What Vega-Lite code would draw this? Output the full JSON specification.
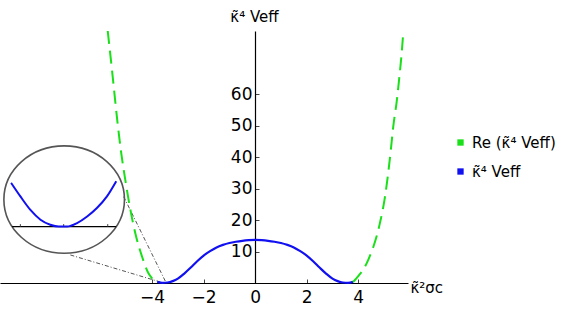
{
  "$schema": "https://vega.github.io/schema/vega-lite/v6.json",
  "width": 408,
  "height": 252,
  "autosize": "none",
  "padding": {"left": 0, "top": 31, "right": 173, "bottom": 27},
  "config": {"view": {"stroke": null}, "font": "DejaVu Sans"},
  "encoding": {
    "x": {
      "field": "x", "type": "quantitative",
      "scale": {"domain": [-9.9, 5.93], "nice": false, "zero": false},
      "axis": {
        "values": [-4, -2, 0, 2, 4], "grid": false, "domainColor": "black", "domainWidth": 1.2,
        "tickColor": "#444", "tickSize": -4, "labelPadding": 10, "labelFontSize": 17, "labelColor": "black",
        "labelOverlap": false, "labelFlush": false,
        "title": "κ̃²σc", "titleX": 410, "titleY": 4, "titleAlign": "left", "titleBaseline": "middle",
        "titleFontSize": 15, "titleFontWeight": "normal", "titleColor": "black"
      }
    },
    "y": {
      "field": "y", "type": "quantitative",
      "scale": {"domain": [0, 80], "nice": false, "zero": false},
      "axis": {
        "values": [10, 20, 30, 40, 50, 60], "grid": false, "offset": -255, "domainColor": "black", "domainWidth": 1.2,
        "tickColor": "#444", "tickSize": -4, "labelPadding": 7, "labelFontSize": 17, "labelColor": "black",
        "labelOverlap": false, "labelFlush": false,
        "title": "κ̃⁴ Veff", "titleAngle": 0, "titleX": -1, "titleY": -10, "titleAlign": "center", "titleBaseline": "alphabetic",
        "titleFontSize": 15, "titleFontWeight": "normal", "titleColor": "black"
      }
    }
  },
  "layer": [
    {
      "data": {"values": [{"x": -7.41, "y": 26.5}]},
      "mark": {"type": "point", "shape": "M-1,0A1,0.89,0,1,1,1,0A1,0.89,0,1,1,-1,0Z", "size": 14544, "filled": true, "fill": "white", "stroke": "#555555", "strokeWidth": 1.6, "opacity": 1, "fillOpacity": 1}
    },
    {
      "data": {"values": [
        {"x": -5.10, "y": 27.4, "k": 1}, {"x": -3.45, "y": 0, "k": 1},
        {"x": -7.17, "y": 8.9, "k": 2}, {"x": -3.55, "y": 0, "k": 2}
      ]},
      "mark": {"type": "line", "color": "#555555", "strokeWidth": 1, "strokeDash": [4, 2, 1, 2], "clip": true},
      "encoding": {"detail": {"field": "k"}}
    },
    {
      "data": {"values": [{"x": -9.43, "x2": -5.39, "y": 17.9}]},
      "mark": {"type": "rule", "color": "black", "strokeWidth": 1.2},
      "encoding": {"x2": {"field": "x2"}}
    },
    {
      "data": {"values": [{"x": -9.11, "y": 17.9, "y2": 18.7}, {"x": -7.43, "y": 17.9, "y2": 18.7}, {"x": -5.72, "y": 17.9, "y2": 18.7}]},
      "mark": {"type": "rule", "color": "#444", "strokeWidth": 1},
      "encoding": {"y2": {"field": "y2"}}
    },
    {
      "data": {"values": [
        {"x": -9.47, "y": 31.8}, {"x": -9.11, "y": 27.5}, {"x": -8.72, "y": 23.2}, {"x": -8.33, "y": 20.1},
        {"x": -7.95, "y": 18.5}, {"x": -7.62, "y": 17.9}, {"x": -7.30, "y": 17.9}, {"x": -6.91, "y": 19.0},
        {"x": -6.52, "y": 21.1}, {"x": -6.14, "y": 23.8}, {"x": -5.75, "y": 27.5}, {"x": -5.39, "y": 32.3}
      ]},
      "mark": {"type": "line", "color": "#1010f0", "strokeWidth": 2, "interpolate": "monotone"}
    },
    {
      "data": {"values": [
        {"x": -3.8, "y": 0.35, "series": "κ̃⁴ Veff"}, {"x": -3.6, "y": 0.05, "series": "κ̃⁴ Veff"},
        {"x": -3.4, "y": 0.15, "series": "κ̃⁴ Veff"}, {"x": -3.2, "y": 0.6, "series": "κ̃⁴ Veff"},
        {"x": -3.0, "y": 1.4, "series": "κ̃⁴ Veff"}, {"x": -2.75, "y": 3.0, "series": "κ̃⁴ Veff"},
        {"x": -2.5, "y": 4.9, "series": "κ̃⁴ Veff"}, {"x": -2.25, "y": 6.9, "series": "κ̃⁴ Veff"},
        {"x": -2.0, "y": 8.7, "series": "κ̃⁴ Veff"}, {"x": -1.75, "y": 10.1, "series": "κ̃⁴ Veff"},
        {"x": -1.5, "y": 11.3, "series": "κ̃⁴ Veff"}, {"x": -1.25, "y": 12.1, "series": "κ̃⁴ Veff"},
        {"x": -1.0, "y": 12.7, "series": "κ̃⁴ Veff"}, {"x": -0.75, "y": 13.1, "series": "κ̃⁴ Veff"},
        {"x": -0.5, "y": 13.4, "series": "κ̃⁴ Veff"}, {"x": -0.25, "y": 13.6, "series": "κ̃⁴ Veff"},
        {"x": 0, "y": 13.7, "series": "κ̃⁴ Veff"}, {"x": 0.25, "y": 13.6, "series": "κ̃⁴ Veff"},
        {"x": 0.5, "y": 13.4, "series": "κ̃⁴ Veff"}, {"x": 0.75, "y": 13.1, "series": "κ̃⁴ Veff"},
        {"x": 1.0, "y": 12.7, "series": "κ̃⁴ Veff"}, {"x": 1.25, "y": 12.1, "series": "κ̃⁴ Veff"},
        {"x": 1.5, "y": 11.3, "series": "κ̃⁴ Veff"}, {"x": 1.75, "y": 10.1, "series": "κ̃⁴ Veff"},
        {"x": 2.0, "y": 8.7, "series": "κ̃⁴ Veff"}, {"x": 2.25, "y": 6.9, "series": "κ̃⁴ Veff"},
        {"x": 2.5, "y": 4.9, "series": "κ̃⁴ Veff"}, {"x": 2.75, "y": 3.0, "series": "κ̃⁴ Veff"},
        {"x": 3.0, "y": 1.4, "series": "κ̃⁴ Veff"}, {"x": 3.2, "y": 0.6, "series": "κ̃⁴ Veff"},
        {"x": 3.4, "y": 0.15, "series": "κ̃⁴ Veff"}, {"x": 3.6, "y": 0.05, "series": "κ̃⁴ Veff"},
        {"x": 3.8, "y": 0.35, "series": "κ̃⁴ Veff"}
      ]},
      "mark": {"type": "line", "strokeWidth": 2.2, "interpolate": "monotone"},
      "encoding": {
        "color": {
          "field": "series", "type": "nominal",
          "scale": {"domain": ["Re (κ̃⁴ Veff)", "κ̃⁴ Veff"], "range": ["#19e019", "#1010f0"]},
          "legend": {
            "orient": "none", "legendX": 453, "legendY": 104, "title": null,
            "symbolType": "square", "symbolSize": 40, "symbolStrokeWidth": 0,
            "labelFontSize": 15, "labelColor": "black", "rowPadding": 13, "labelOffset": 4,
            "encode": {"symbols": {"update": {"fill": {"scale": "color", "field": "value"}, "strokeWidth": {"value": 0}, "strokeDash": {"value": []}}}}
          }
        }
      }
    },
    {
      "data": {"values": [
        {"x": -3.85, "y": 0.3, "series": "Re (κ̃⁴ Veff)", "seg": "L"}, {"x": -4.0, "y": 1.5, "series": "Re (κ̃⁴ Veff)", "seg": "L"},
        {"x": -4.14, "y": 3.1, "series": "Re (κ̃⁴ Veff)", "seg": "L"}, {"x": -4.39, "y": 8.4, "series": "Re (κ̃⁴ Veff)", "seg": "L"},
        {"x": -4.65, "y": 15.8, "series": "Re (κ̃⁴ Veff)", "seg": "L"}, {"x": -4.84, "y": 23.2, "series": "Re (κ̃⁴ Veff)", "seg": "L"},
        {"x": -5.04, "y": 32.8, "series": "Re (κ̃⁴ Veff)", "seg": "L"}, {"x": -5.2, "y": 41.5, "series": "Re (κ̃⁴ Veff)", "seg": "L"},
        {"x": -5.36, "y": 52.4, "series": "Re (κ̃⁴ Veff)", "seg": "L"}, {"x": -5.53, "y": 65.7, "series": "Re (κ̃⁴ Veff)", "seg": "L"},
        {"x": -5.72, "y": 80, "series": "Re (κ̃⁴ Veff)", "seg": "L"},
        {"x": 3.8, "y": 0.3, "series": "Re (κ̃⁴ Veff)", "seg": "R"}, {"x": 4.0, "y": 2.2, "series": "Re (κ̃⁴ Veff)", "seg": "R"},
        {"x": 4.2, "y": 4.3, "series": "Re (κ̃⁴ Veff)", "seg": "R"}, {"x": 4.4, "y": 7.6, "series": "Re (κ̃⁴ Veff)", "seg": "R"},
        {"x": 4.59, "y": 11.6, "series": "Re (κ̃⁴ Veff)", "seg": "R"}, {"x": 4.84, "y": 19.0, "series": "Re (κ̃⁴ Veff)", "seg": "R"},
        {"x": 5.04, "y": 27.5, "series": "Re (κ̃⁴ Veff)", "seg": "R"}, {"x": 5.17, "y": 35.5, "series": "Re (κ̃⁴ Veff)", "seg": "R"},
        {"x": 5.26, "y": 42, "series": "Re (κ̃⁴ Veff)", "seg": "R"}, {"x": 5.36, "y": 49.8, "series": "Re (κ̃⁴ Veff)", "seg": "R"},
        {"x": 5.49, "y": 57.5, "series": "Re (κ̃⁴ Veff)", "seg": "R"}, {"x": 5.59, "y": 65, "series": "Re (κ̃⁴ Veff)", "seg": "R"},
        {"x": 5.69, "y": 73.5, "series": "Re (κ̃⁴ Veff)", "seg": "R"}, {"x": 5.75, "y": 80, "series": "Re (κ̃⁴ Veff)", "seg": "R"}
      ]},
      "mark": {"type": "line", "strokeWidth": 2, "strokeDash": [13, 7], "interpolate": "monotone"},
      "encoding": {
        "color": {"field": "series", "type": "nominal"},
        "detail": {"field": "seg"}
      }
    }
  ]
}
